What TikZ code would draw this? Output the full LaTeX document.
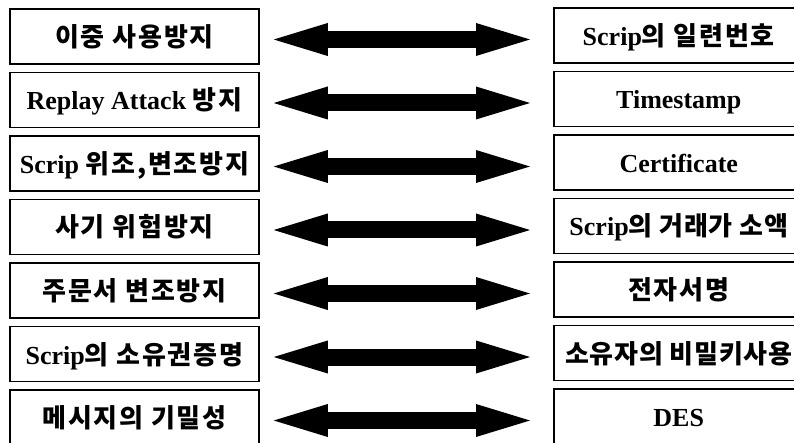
\documentclass[tikz,border=0pt]{standalone}
\usepackage{fontspec}
\setmainfont{Liberation Serif}
\newfontfamily\kr[LetterSpace=7]{Noto Sans CJK KR}
\newfontfamily\krtight[LetterSpace=3]{Noto Sans CJK KR}
\usetikzlibrary{arrows.meta}
\newcommand{\K}[1]{{\kr\bfseries #1}}
\newcommand{\KT}[1]{{\krtight\bfseries #1}}
\begin{document}
\begin{tikzpicture}[x=1pt,y=-1pt,
  box/.style={draw, line width=1.5pt, minimum height=55pt, inner sep=2pt,
    text height=20pt, text depth=0pt, font=\fontsize{26}{30}\selectfont\bfseries},
  lbox/.style={box, minimum width=249pt},
  rbox/.style={box, minimum width=250pt, anchor=west},
  dbl/.style={line width=17pt,
    {Triangle[length=54pt 0 0,width=33pt 0 0,line width=0pt 0 0]}-{Triangle[length=54pt 0 0,width=33pt 0 0,line width=0pt 0 0]},
    shorten <=14pt, shorten >=23pt}]
\clip (0,0) rectangle (794,443);
\fill[white] (0,0) rectangle (794,443);
% left boxes
\node[lbox] (L1) at (134.5,36.5)  {\K{이중 사용방지}};
\node[lbox] (L2) at (134.5,100)   {Replay Attack \K{방지}};
\node[lbox] (L3) at (134.5,163.5) {Scrip \K{위조,변조방지}};
\node[lbox] (L4) at (134.5,227)   {\K{사기 위험방지}};
\node[lbox] (L5) at (134.5,290.5) {\K{주문서 변조방지}};
\node[lbox] (L6) at (134.5,354)   {Scrip\K{의 소유권증명}};
\node[lbox] (L7) at (134.5,417.5) {\K{메시지의 기밀성}};
% right boxes
\node[rbox] (R1) at (553,35.5)  {Scrip\K{의 일련번호}};
\node[rbox] (R2) at (553,99)    {Timestamp};
\node[rbox] (R3) at (553,162.5) {Certificate};
\node[rbox] (R4) at (553,226)   {Scrip\KT{의 거래가 소액}};
\node[rbox] (R5) at (553,289.5) {\K{전자서명}};
\node[rbox] (R6) at (553,353)   {\KT{소유자의 비밀키사용}};
\node[rbox] (R7) at (553,416.5) {DES};
% double arrows
\foreach \i in {1,...,7}{
  \draw[dbl] ([yshift=-3pt]L\i.east) -- ([yshift=-3pt]L\i.east -| R\i.west);
}
\end{tikzpicture}
\end{document}
